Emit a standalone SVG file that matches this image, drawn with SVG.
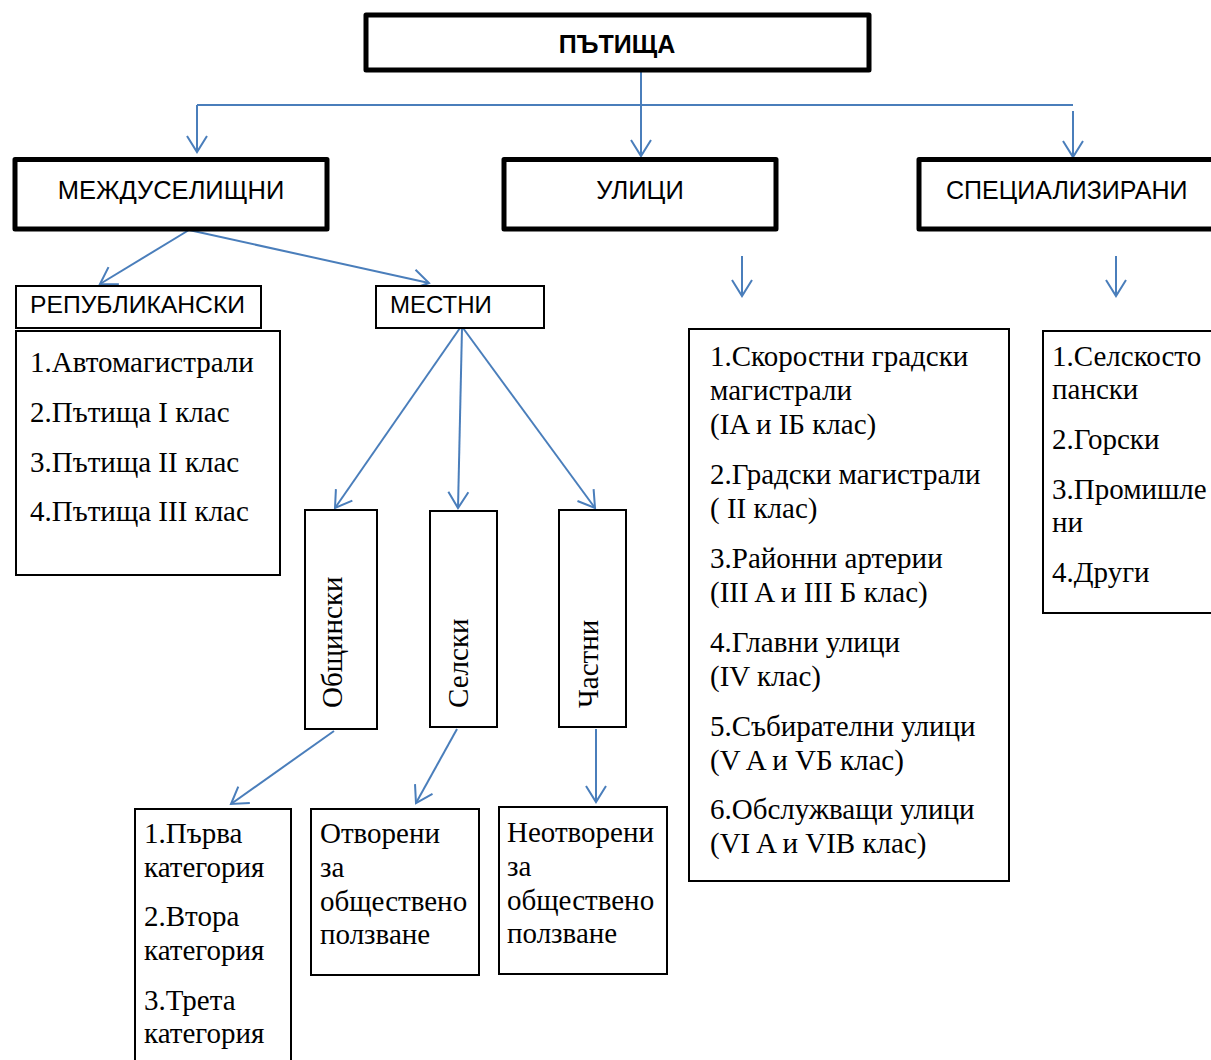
<svg xmlns="http://www.w3.org/2000/svg" width="1211" height="1060" viewBox="0 0 1211 1060">
<style>
.thick{fill:#fff;stroke:#000;stroke-width:5;stroke-linejoin:round}
.thin{fill:#fff;stroke:#000;stroke-width:2}
.sans{font-family:"Liberation Sans",Arial,sans-serif;font-size:25.5px;fill:#000}
.serif{font-family:"Liberation Serif","Times New Roman",serif;font-size:29px;fill:#000}
.conn{fill:none;stroke:#4a7ebb;stroke-width:2}
</style>
<defs>
<marker id="arr" markerUnits="userSpaceOnUse" viewBox="-18 -12 20 24" markerWidth="20" markerHeight="24" refX="0" refY="0" orient="auto">
<path d="M-16,-10 L0,0 L-16,10" fill="none" stroke="#4a7ebb" stroke-width="2"/>
</marker>
</defs>
<rect width="1211" height="1060" fill="#fff"/>

<g id="connectors" class="conn">
<line x1="641" y1="72" x2="641" y2="156" marker-end="url(#arr)"/>
<line x1="197" y1="105" x2="1073" y2="105"/>
<line x1="197" y1="105" x2="197" y2="152" marker-end="url(#arr)"/>
<line x1="1073" y1="111" x2="1073" y2="157" marker-end="url(#arr)"/>
<line x1="189" y1="230" x2="100" y2="284" marker-end="url(#arr)"/>
<line x1="189" y1="230" x2="429" y2="283" marker-end="url(#arr)"/>
<line x1="742" y1="256" x2="742" y2="296" marker-end="url(#arr)"/>
<line x1="1116" y1="256" x2="1116" y2="296" marker-end="url(#arr)"/>
<line x1="460" y1="328" x2="335" y2="508" marker-end="url(#arr)"/>
<line x1="462" y1="328" x2="458" y2="508" marker-end="url(#arr)"/>
<line x1="463" y1="328" x2="595" y2="508" marker-end="url(#arr)"/>
<line x1="334" y1="731" x2="231" y2="804" marker-end="url(#arr)"/>
<line x1="457" y1="729" x2="416" y2="803" marker-end="url(#arr)"/>
<line x1="596" y1="729" x2="596" y2="802" marker-end="url(#arr)"/>
</g>

<g id="node-patishta">
<rect class="thick" x="366" y="15" width="503" height="55"/>
<text class="sans" x="617" y="53" text-anchor="middle" style="font-weight:bold;font-size:25px">ПЪТИЩА</text>
</g>

<g id="node-mezhduselishtni">
<rect class="thick" x="15" y="159.5" width="312" height="69.5"/>
<text class="sans" x="171" y="199" text-anchor="middle">МЕЖДУСЕЛИЩНИ</text>
</g>

<g id="node-ulitsi">
<rect class="thick" x="504" y="159.5" width="272" height="69.5"/>
<text class="sans" x="640" y="199" text-anchor="middle">УЛИЦИ</text>
</g>

<g id="node-spetsializirani">
<rect class="thick" x="919" y="159.5" width="320" height="69.5"/>
<text class="sans" x="946" y="199" style="font-size:25px">СПЕЦИАЛИЗИРАНИ</text>
</g>

<g id="node-republikanski">
<rect class="thin" x="16" y="286" width="245" height="42"/>
<text class="sans" x="30" y="313" style="font-size:24px" textLength="215" lengthAdjust="spacingAndGlyphs">РЕПУБЛИКАНСКИ</text>
</g>

<g id="node-republikanski-list">
<rect class="thin" x="16" y="331" width="264" height="244"/>
<text class="serif" x="30" y="372">1.Автомагистрали</text>
<text class="serif" x="30" y="422">2.Пътища I клас</text>
<text class="serif" x="30" y="472">3.Пътища II клас</text>
<text class="serif" x="30" y="521">4.Пътища III клас</text>
</g>

<g id="node-mestni">
<rect class="thin" x="376" y="286" width="168" height="42"/>
<text class="sans" x="390" y="313" style="font-size:24px">МЕСТНИ</text>
</g>

<g id="node-obshtinski">
<rect class="thin" x="305" y="510" width="72" height="219"/>
<text class="serif" transform="translate(342,708) rotate(-90)">Общински</text>
</g>

<g id="node-selski">
<rect class="thin" x="430" y="511" width="67" height="216"/>
<text class="serif" transform="translate(468,708) rotate(-90)">Селски</text>
</g>

<g id="node-chastni">
<rect class="thin" x="559" y="510" width="67" height="217"/>
<text class="serif" transform="translate(598,708) rotate(-90)">Частни</text>
</g>

<g id="node-kategorii">
<rect class="thin" x="135" y="809" width="156" height="270"/>
<text class="serif" x="144" y="843">1.Първа</text>
<text class="serif" x="144" y="877">категория</text>
<text class="serif" x="144" y="926">2.Втора</text>
<text class="serif" x="144" y="960">категория</text>
<text class="serif" x="144" y="1010">3.Трета</text>
<text class="serif" x="144" y="1043">категория</text>
</g>

<g id="node-otvoreni">
<rect class="thin" x="311" y="809" width="168" height="166"/>
<text class="serif" x="320" y="843">Отворени</text>
<text class="serif" x="320" y="877">за</text>
<text class="serif" x="320" y="911">обществено</text>
<text class="serif" x="320" y="944">ползване</text>
</g>

<g id="node-neotvoreni">
<rect class="thin" x="499" y="807" width="168" height="167"/>
<text class="serif" x="507" y="842">Неотворени</text>
<text class="serif" x="507" y="876">за</text>
<text class="serif" x="507" y="910">обществено</text>
<text class="serif" x="507" y="943">ползване</text>
</g>

<g id="node-ulitsi-list">
<rect class="thin" x="689" y="329" width="320" height="552"/>
<text class="serif" x="710" y="366">1.Скоростни градски</text>
<text class="serif" x="710" y="400">магистрали</text>
<text class="serif" x="710" y="434">(IA и IБ клас)</text>
<text class="serif" x="710" y="484">2.Градски магистрали</text>
<text class="serif" x="710" y="518">( II клас)</text>
<text class="serif" x="710" y="568">3.Районни артерии</text>
<text class="serif" x="710" y="602">(III A и III Б клас)</text>
<text class="serif" x="710" y="652">4.Главни улици</text>
<text class="serif" x="710" y="686">(IV клас)</text>
<text class="serif" x="710" y="736">5.Събирателни улици</text>
<text class="serif" x="710" y="770">(V A и VБ клас)</text>
<text class="serif" x="710" y="819">6.Обслужващи улици</text>
<text class="serif" x="710" y="853">(VI A и VIB клас)</text>
</g>

<g id="node-spets-list">
<rect class="thin" x="1043" y="331" width="180" height="282"/>
<text class="serif" x="1052" y="366">1.Селскосто</text>
<text class="serif" x="1052" y="399">пански</text>
<text class="serif" x="1052" y="449">2.Горски</text>
<text class="serif" x="1052" y="499">3.Промишле</text>
<text class="serif" x="1052" y="532">ни</text>
<text class="serif" x="1052" y="582">4.Други</text>
</g>
</svg>
